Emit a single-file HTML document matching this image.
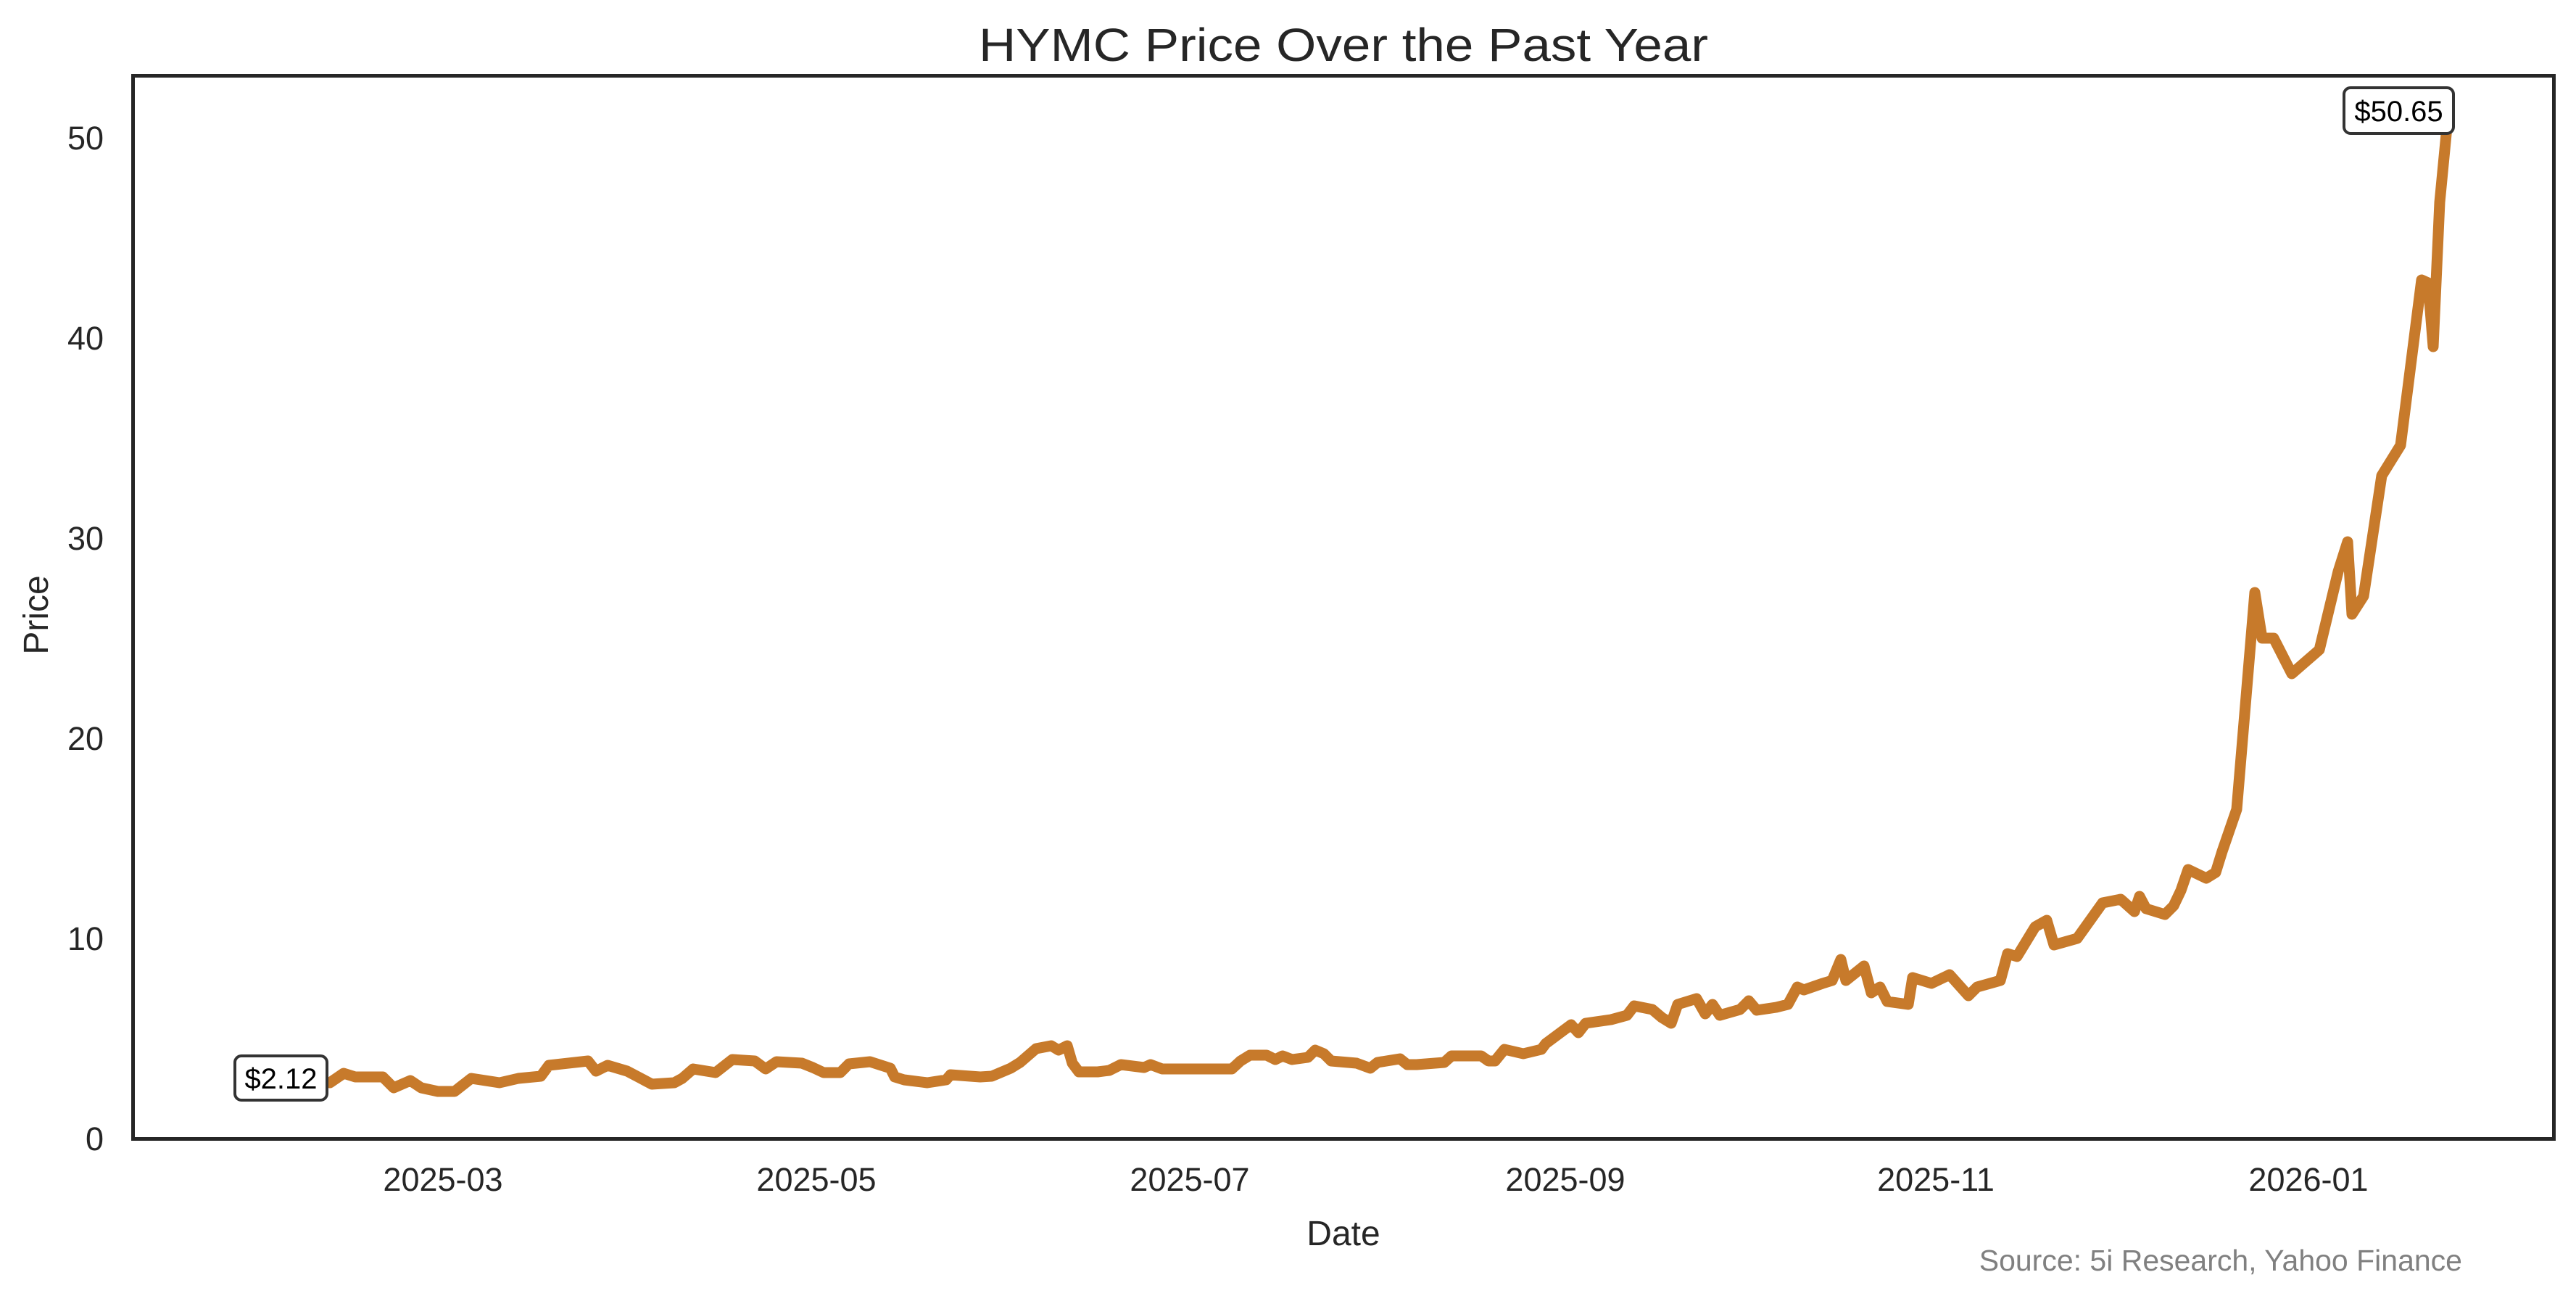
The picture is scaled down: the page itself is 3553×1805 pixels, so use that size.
<!DOCTYPE html>
<html><head><meta charset="utf-8"><style>
html,body{margin:0;padding:0;background:#fff;}
svg{display:block;}
text{font-family:"Liberation Sans",Arial,sans-serif;}
</style></head><body>
<svg width="3553" height="1805" viewBox="0 0 3553 1805" xmlns="http://www.w3.org/2000/svg">
<rect width="3553" height="1805" fill="#fff"/>
<text x="1853" y="84" font-size="64" text-anchor="middle" fill="#262626" textLength="1006" lengthAdjust="spacingAndGlyphs">HYMC Price Over the Past Year</text>
<polyline fill="none" stroke="#c77a2b" stroke-width="15" stroke-linejoin="round" stroke-linecap="round" points="
455,1493 474,1480 490,1485 528,1485 543,1500 566,1490 581,1500 604,1505 627,1505 650,1487 689,1493 715,1487 746,1484 757,1469 811,1463 822,1477 838,1469 865,1477 884,1487 899,1495 930,1493 941,1487 956,1474 987,1479 1010,1461 1041,1463 1056,1474 1071,1464 1106,1466 1121,1472 1136,1479 1159,1479 1171,1467 1200,1464
1228,1473 1234,1485 1247,1489 1279,1493 1305,1489 1311,1482 1352,1485 1368,1484 1394,1473 1407,1465 1429,1446 1450,1442
1460,1448 1472,1442 1479,1466 1488,1478 1514,1478 1530,1476 1546,1468 1578,1472 1587,1468 1603,1474 1699,1474 1711,1463 1724,1455 1747,1455 1759,1461 1769,1456 1782,1461 1804,1458 1814,1448 1826,1453 1836,1463 1871,1466 1890,1473 1900,1465 1931,1460 1941,1468 1954,1468 1992,1465 2002,1456 2043,1456 2053,1463 2062,1463 2075,1447 2101,1453 2126,1447 2132,1439 2167,1413 2177,1424 2187,1411 2222,1406 2244,1400 2254,1387 2279,1392 2292,1403 2305,1411 2314,1385 2340,1377 2352,1398 2362,1385 2372,1400 2400,1392 2412,1380 2423,1393 2450,1389
2466,1385 2479,1361 2488,1365 2514,1356 2527,1352 2539,1323 2546,1352 2571,1332 2581,1369 2593,1361 2603,1381 2632,1385 2638,1348 2651,1352 2664,1356 2689,1344 2715,1373 2727,1361 2759,1352 2769,1315 2782,1319 2807,1278 2823,1269 2833,1303 2865,1294 2900,1245 2925,1240 2944,1257 2951,1236 2960,1253 2986,1261 2998,1249 3008,1228 3018,1199 3043,1211 3056,1203 3065,1174 3085,1116 3110,817 3120,880 3136,880 3161,929 3199,896 3225,788 3238,747 3244,847 3260,822 3285,656 3311,614 3340,386 3349,390 3356,478 3365,279 3375,175"/>
<rect x="183.5" y="104.5" width="3339" height="1466" fill="none" stroke="#262626" stroke-width="5"/>
<g font-size="45" fill="#262626" text-anchor="end">
<text x="143" y="1586">0</text>
<text x="143" y="1310">10</text>
<text x="143" y="1034">20</text>
<text x="143" y="758">30</text>
<text x="143" y="482">40</text>
<text x="143" y="206">50</text>
</g>
<g font-size="45" fill="#262626" text-anchor="middle">
<text x="611" y="1642">2025-03</text>
<text x="1126" y="1642">2025-05</text>
<text x="1641" y="1642">2025-07</text>
<text x="2159" y="1642">2025-09</text>
<text x="2670" y="1642">2025-11</text>
<text x="3184" y="1642">2026-01</text>
</g>
<text x="1853" y="1717" font-size="48" fill="#262626" text-anchor="middle">Date</text>
<text transform="translate(66,848) rotate(-90)" font-size="48" fill="#262626" text-anchor="middle">Price</text>
<rect x="324" y="1456" width="127" height="61" rx="9" fill="#fff" stroke="#333" stroke-width="4"/>
<text x="387.5" y="1501" font-size="40" fill="#000" text-anchor="middle">$2.12</text>
<rect x="3233" y="121" width="151" height="63" rx="9" fill="#fff" stroke="#333" stroke-width="4"/>
<text x="3308.5" y="167" font-size="40" fill="#000" text-anchor="middle">$50.65</text>
<text x="3396" y="1752" font-size="41" fill="#808080" text-anchor="end">Source: 5i Research, Yahoo Finance</text>
</svg>
</body></html>
